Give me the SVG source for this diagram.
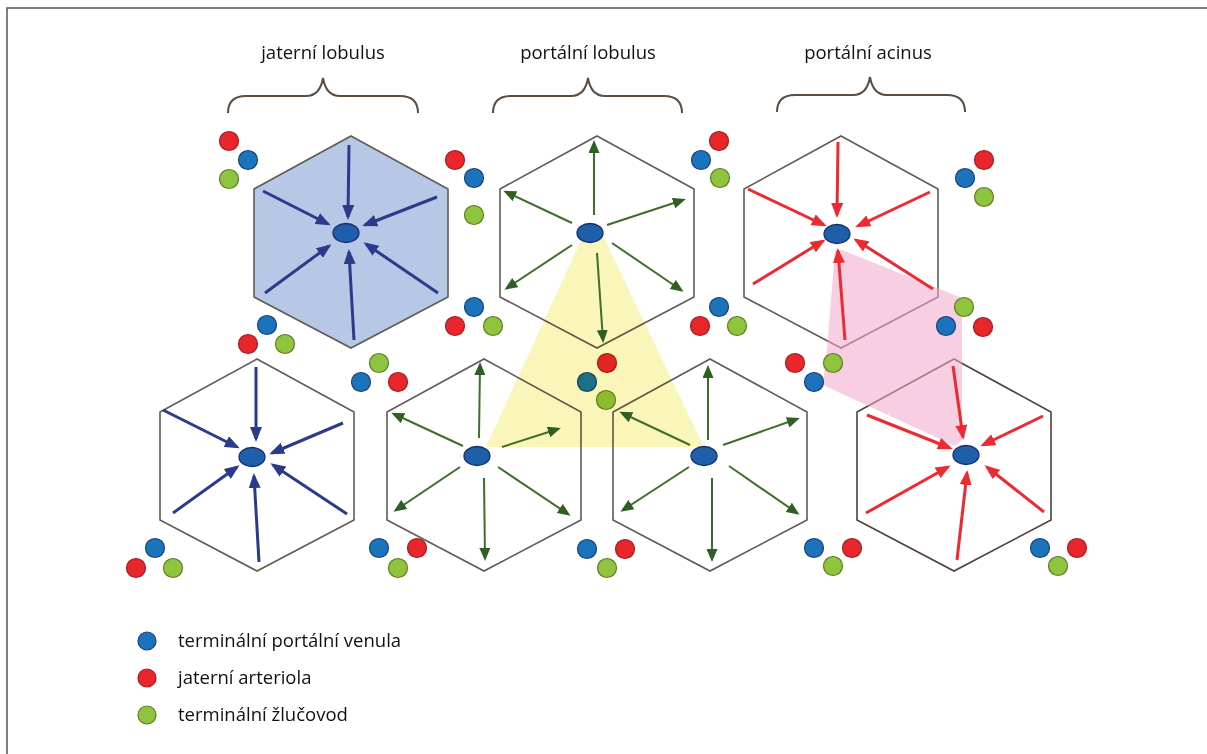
<svg xmlns="http://www.w3.org/2000/svg" xmlns:xlink="http://www.w3.org/1999/xlink" width="1207" height="754" viewBox="0 0 1207 754">
  <style>
    .hex { fill: none; stroke: #5f5b59; stroke-width: 1.6; }
    .hex.filled { fill: #b6c8e6; }
    .cv { fill: #1f5ea9; stroke: #17306f; stroke-width: 1.3; }
    .r { fill: #e8262c; stroke: #a51c20; stroke-width: 1.2; }
    .b { fill: #1b74bb; stroke: #1b3f78; stroke-width: 1.2; }
    .g { fill: #8fc43e; stroke: #5f7d22; stroke-width: 1.2; }
    .brace { fill: none; stroke: #5b4d40; stroke-width: 2; }
    .lbl { font-family: "Open Sans", "Noto Sans", sans-serif; font-size: 18.5px; fill: #111111; }
    .ab { stroke: #2b3b8c; stroke-width: 3; fill: none; marker-end: url(#hb); }
    .ag { stroke: #3f6e2c; stroke-width: 2; fill: none; marker-end: url(#hg); }
    .ar { stroke: #ed2a30; stroke-width: 3; fill: none; marker-end: url(#hr); }
  </style>
  <defs>
    <polygon id="hexshape" points="0,-106 97,-53 97,55 0,106 -97,55 -97,-53"/>
    <marker id="hb" viewBox="0 0 15 12" refX="12" refY="6" markerWidth="15" markerHeight="12" orient="auto" markerUnits="userSpaceOnUse">
      <path d="M0,0 L15,6 L0,12 z" fill="#2b3b8c"/>
    </marker>
    <marker id="hg" viewBox="0 0 13 11" refX="10" refY="5.5" markerWidth="13" markerHeight="11" orient="auto" markerUnits="userSpaceOnUse">
      <path d="M0,0 L13,5.5 L0,11 z" fill="#2f5f22"/>
    </marker>
    <marker id="hr" viewBox="0 0 15 12" refX="12" refY="6" markerWidth="15" markerHeight="12" orient="auto" markerUnits="userSpaceOnUse">
      <path d="M0,0 L15,6 L0,12 z" fill="#ed2a30"/>
    </marker>
  </defs>

  <rect width="1207" height="754" fill="#ffffff"/>
  <!-- frame -->
  <path d="M7,754 V8 H1207" fill="none" stroke="#555555" stroke-width="1.5"/>

  <!-- headings and braces -->
  <g id="heading-jaterni-lobulus">
    <text class="lbl" x="323" y="59" text-anchor="middle">jaterní lobulus</text>
    <path class="brace" d="M228,113 C228,102 234,96 246,96 L306,96 C316,96 321,90 323,78 C325,90 330,96 340,96 L400,96 C412,96 418,102 418,113"/>
  </g>
  <g id="heading-portalni-lobulus">
    <text class="lbl" x="588" y="59" text-anchor="middle">portální lobulus</text>
    <path class="brace" d="M493,113 C493,102 499,96 511,96 L571,96 C581,96 586,90 588,78 C590,90 595,96 605,96 L664,96 C676,96 682,102 682,113"/>
  </g>
  <g id="heading-portalni-acinus">
    <text class="lbl" x="868" y="59" text-anchor="middle">portální acinus</text>
    <path class="brace" d="M777,112 C777,101 783,95 795,95 L853,95 C863,95 868,89 870,77 C872,89 877,95 887,95 L947,95 C959,95 965,101 965,112"/>
  </g>

  <!-- lobule outlines -->
  <g id="lobule-1"><use xlink:href="#hexshape" class="hex filled" x="351" y="242"/></g>
  <g id="lobule-2"><use xlink:href="#hexshape" class="hex" x="597" y="242"/></g>
  <g id="lobule-3"><use xlink:href="#hexshape" class="hex" x="841" y="242"/></g>
  <g id="lobule-4"><use xlink:href="#hexshape" class="hex" x="257" y="465"/></g>
  <g id="lobule-5"><use xlink:href="#hexshape" class="hex" x="484" y="465"/></g>
  <g id="lobule-6"><use xlink:href="#hexshape" class="hex" x="710" y="465"/></g>
  <g id="lobule-7"><use xlink:href="#hexshape" class="hex" x="954" y="465" style="stroke:#4f403a"/></g>

  <!-- acinus zone -->
  <g id="acinus-zone" fill="#f3a9cb" opacity="0.55">
    <polygon points="835,250 842,250 962,298 962,305 826,362"/>
    <polygon points="826,355 962,298 962,440 955,446 823,385"/>
  </g>

  <!-- portal triads -->
  <g id="triad-a"><circle class="r" cx="229" cy="141" r="9.5"/><circle class="b" cx="248" cy="160" r="9.5"/><circle class="g" cx="229" cy="179" r="9.5"/></g>
  <g id="triad-b"><circle class="r" cx="455" cy="160" r="9.5"/><circle class="b" cx="474" cy="178" r="9.5"/><circle class="g" cx="474" cy="215" r="9.5"/></g>
  <g id="triad-c"><circle class="r" cx="719" cy="141" r="9.5"/><circle class="b" cx="701" cy="160" r="9.5"/><circle class="g" cx="720" cy="178" r="9.5"/></g>
  <g id="triad-d"><circle class="r" cx="984" cy="160" r="9.5"/><circle class="b" cx="965" cy="178" r="9.5"/><circle class="g" cx="984" cy="197" r="9.5"/></g>
  <g id="triad-e"><circle class="b" cx="267" cy="325" r="9.5"/><circle class="r" cx="248" cy="344" r="9.5"/><circle class="g" cx="285" cy="344" r="9.5"/></g>
  <g id="triad-f"><circle class="g" cx="379" cy="363" r="9.5"/><circle class="b" cx="361" cy="382" r="9.5"/><circle class="r" cx="398" cy="382" r="9.5"/></g>
  <g id="triad-g"><circle class="b" cx="474" cy="307" r="9.5"/><circle class="r" cx="455" cy="326" r="9.5"/><circle class="g" cx="493" cy="326" r="9.5"/></g>
  <g id="triad-h"><circle class="r" cx="607" cy="363" r="9.5"/><circle class="b" cx="587" cy="382" r="9.5"/><circle class="g" cx="606" cy="400" r="9.5"/></g>
  <g id="triad-i"><circle class="b" cx="719" cy="307" r="9.5"/><circle class="r" cx="700" cy="326" r="9.5"/><circle class="g" cx="737" cy="326" r="9.5"/></g>
  <g id="triad-j"><circle class="r" cx="795" cy="363" r="9.5"/><circle class="g" cx="833" cy="363" r="9.5"/><circle class="b" cx="814" cy="382" r="9.5"/></g>
  <g id="triad-k"><circle class="g" cx="964" cy="307" r="9.5"/><circle class="b" cx="946" cy="326" r="9.5"/><circle class="r" cx="983" cy="327" r="9.5"/></g>
  <g id="triad-l"><circle class="b" cx="155" cy="548" r="9.5"/><circle class="r" cx="136" cy="568" r="9.5"/><circle class="g" cx="173" cy="568" r="9.5"/></g>
  <g id="triad-m"><circle class="b" cx="379" cy="548" r="9.5"/><circle class="r" cx="417" cy="548" r="9.5"/><circle class="g" cx="398" cy="568" r="9.5"/></g>
  <g id="triad-n"><circle class="b" cx="587" cy="549" r="9.5"/><circle class="r" cx="625" cy="549" r="9.5"/><circle class="g" cx="607" cy="568" r="9.5"/></g>
  <g id="triad-o"><circle class="b" cx="814" cy="548" r="9.5"/><circle class="r" cx="852" cy="548" r="9.5"/><circle class="g" cx="833" cy="566" r="9.5"/></g>
  <g id="triad-p"><circle class="b" cx="1040" cy="548" r="9.5"/><circle class="r" cx="1077" cy="548" r="9.5"/><circle class="g" cx="1058" cy="566" r="9.5"/></g>

  <!-- portal lobule zone -->
  <g id="portal-lobule-zone">
    <polygon points="583,236 603,236 704,447 486,447" fill="#faf5b8" style="mix-blend-mode:multiply"/>
  </g>

  <!-- flow arrows -->
  <g id="connectors">
    <!-- lobule 1 -->
    <path class="ab" d="M349,145 L348,217"/>
    <path class="ab" d="M263,191 L328,224"/>
    <path class="ab" d="M437,197 L365,225"/>
    <path class="ab" d="M265,293 L329,246"/>
    <path class="ab" d="M438,293 L366,244"/>
    <path class="ab" d="M354,340 L349,252"/>
    <!-- lobule 4 -->
    <path class="ab" d="M256,367 L256,439"/>
    <path class="ab" d="M163,410 L237,447"/>
    <path class="ab" d="M343,423 L272,453"/>
    <path class="ab" d="M173,513 L237,467"/>
    <path class="ab" d="M347,514 L273,465"/>
    <path class="ab" d="M259,562 L254,476"/>
    <!-- lobule 3 -->
    <path class="ar" d="M838,142 L837,215"/>
    <path class="ar" d="M748,189 L824,225"/>
    <path class="ar" d="M930,192 L858,226"/>
    <path class="ar" d="M753,284 L823,241"/>
    <path class="ar" d="M933,289 L856,240"/>
    <path class="ar" d="M845,340 L838,251"/>
    <!-- lobule 7 -->
    <path class="ar" d="M953,366 L963,437"/>
    <path class="ar" d="M867,415 L950,448"/>
    <path class="ar" d="M1043,416 L983,445"/>
    <path class="ar" d="M866,513 L948,467"/>
    <path class="ar" d="M1044,512 L987,467"/>
    <path class="ar" d="M957,560 L967,473"/>
    <!-- lobule 2 -->
    <path class="ag" d="M594,215 L594,143"/>
    <path class="ag" d="M572,223 L506,192"/>
    <path class="ag" d="M607,225 L683,200"/>
    <path class="ag" d="M572,245 L507,288"/>
    <path class="ag" d="M612,243 L681,290"/>
    <path class="ag" d="M597,253 L603,340"/>
    <!-- lobule 5 -->
    <path class="ag" d="M479,438 L480,365"/>
    <path class="ag" d="M463,446 L394,414"/>
    <path class="ag" d="M502,447 L558,429"/>
    <path class="ag" d="M460,467 L396,510"/>
    <path class="ag" d="M498,467 L568,514"/>
    <path class="ag" d="M484,478 L485,558"/>
    <!-- lobule 6 -->
    <path class="ag" d="M708,440 L708,368"/>
    <path class="ag" d="M690,445 L622,413"/>
    <path class="ag" d="M723,445 L797,419"/>
    <path class="ag" d="M689,467 L623,510"/>
    <path class="ag" d="M729,466 L797,513"/>
    <path class="ag" d="M712,478 L712,559"/>
  </g>

  <!-- central veins -->
  <g id="central-veins">
    <ellipse class="cv" cx="346" cy="233" rx="13" ry="9.5"/>
    <ellipse class="cv" cx="590" cy="233" rx="13" ry="9.5"/>
    <ellipse class="cv" cx="837" cy="234" rx="13" ry="9.5"/>
    <ellipse class="cv" cx="252" cy="457" rx="13" ry="9.5"/>
    <ellipse class="cv" cx="477" cy="456" rx="13" ry="9.5"/>
    <ellipse class="cv" cx="704" cy="456" rx="13" ry="9.5"/>
    <ellipse class="cv" cx="966" cy="455" rx="13" ry="9.5"/>
  </g>

  <!-- legend -->
  <g id="legend">
    <circle class="b" cx="147" cy="641" r="9"/>
    <text class="lbl" x="178" y="647">terminální portální venula</text>
    <circle class="r" cx="147" cy="678" r="9"/>
    <text class="lbl" x="178" y="684">jaterní arteriola</text>
    <circle class="g" cx="147" cy="715" r="9"/>
    <text class="lbl" x="178" y="721">terminální žlučovod</text>
  </g>
</svg>
